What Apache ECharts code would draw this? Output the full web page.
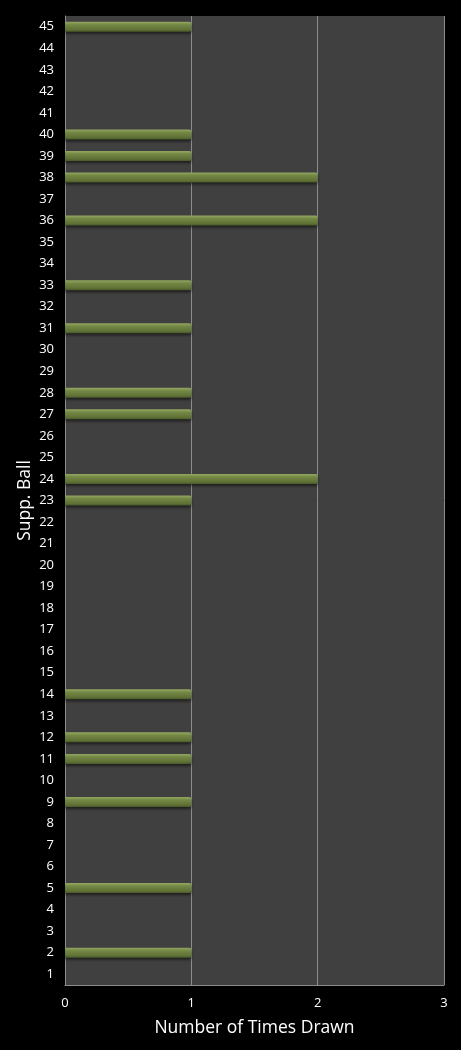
<!DOCTYPE html>
<html>
<head>
<meta charset="utf-8">
<script src="https://cdn.jsdelivr.net/npm/echarts@6/dist/echarts.min.js"></script>
<style>
  html, body { margin: 0; padding: 0; background: #000; }
  #chart { width: 461px; height: 1050px; }
</style>
</head>
<body>
<div id="chart"></div>
<script>
// supp. ball numbers 1..45, bottom to top
var balls = [];
for (var i = 1; i <= 45; i++) {
  balls.push(String(i));
}
// times drawn per ball (same order as balls)
var timesDrawn = [
  0, 1, 0, 0, 1, 0, 0, 0, 1, 0,
  1, 1, 0, 1, 0, 0, 0, 0, 0, 0,
  0, 0, 1, 2, 0, 0, 1, 1, 0, 0,
  1, 0, 1, 0, 0, 2, 0, 2, 1, 1,
  0, 0, 0, 0, 1
];
var xTicks = [0, 1, 2, 3];

(function () {
  var myChart = echarts.init(document.getElementById("chart"));
  var font = "'Open Sans', 'DejaVu Sans', sans-serif";
  var option = {
    backgroundColor: "#000",
    animation: false,
    grid: {
      left: 65,
      right: 17,
      top: 16,
      bottom: 65,
      show: true,
      backgroundColor: "#404040",
      borderWidth: 0,
    },
    xAxis: {
      type: "value",
      min: xTicks[0],
      max: xTicks[xTicks.length - 1],
      interval: 1,
      name: "Number of Times Drawn",
      nameLocation: "middle",
      nameGap: 34,
      nameMoveOverlap: false,
      nameTextStyle: { color: "#fff", fontSize: 17.5, fontFamily: font },
      axisLine: { show: true, lineStyle: { color: "#8c8c8c", width: 1 } },
      axisTick: { show: false },
      axisLabel: { color: "#fff", fontSize: 13, fontFamily: font, margin: 12 },
      splitLine: { show: true, lineStyle: { color: "#8c8c8c", width: 1 } },
    },
    yAxis: {
      type: "category",
      data: balls,
      name: "Supp. Ball",
      nameLocation: "middle",
      nameGap: 31,
      nameRotate: 90,
      nameMoveOverlap: false,
      nameTextStyle: { color: "#fff", fontSize: 17.5, fontFamily: font },
      axisLine: { show: true, lineStyle: { color: "#8c8c8c", width: 1 } },
      axisTick: { show: false },
      axisLabel: { color: "#fff", fontSize: 13, fontFamily: font, margin: 11, interval: 0 },
      splitLine: { show: false },
    },
    series: [
      {
        type: "bar",
        data: timesDrawn,
        barWidth: 10,
        itemStyle: {
          color: new echarts.graphic.LinearGradient(0, 0, 0, 1, [
            { offset: 0, color: "#95a862" },
            { offset: 0.3, color: "#748845" },
            { offset: 0.8, color: "#5f7135" },
            { offset: 1, color: "#4a5829" },
          ]),
          borderRadius: [0, 2, 2, 0],
          shadowColor: "rgba(0,0,0,0.55)",
          shadowBlur: 3,
          shadowOffsetY: 2,
        },
      },
    ],
  };
  myChart.setOption(option);
  window.addEventListener("resize", function () {
    myChart.resize();
  });
})();
</script>
</body>
</html>
